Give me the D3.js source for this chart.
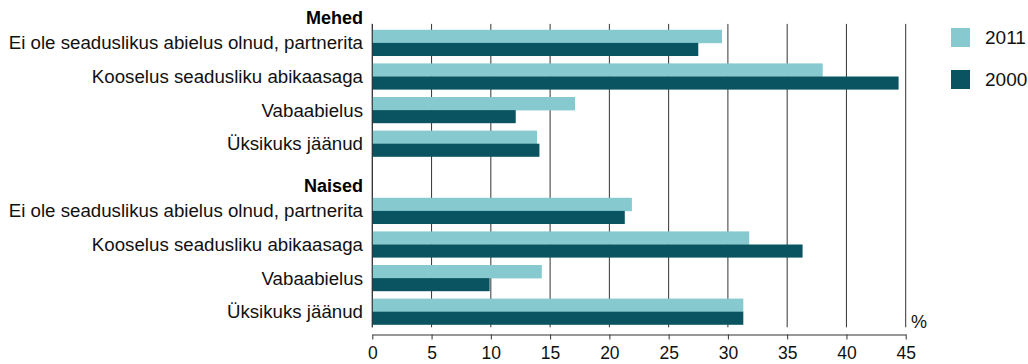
<!DOCTYPE html>
<html>
<head>
<meta charset="utf-8">
<script src="https://cdn.jsdelivr.net/npm/d3@7/dist/d3.min.js"></script>
<style>
html,body{margin:0;padding:0;background:#fff;}
svg{display:block;font-family:"Liberation Sans",Arial,sans-serif;}
</style>
</head>
<body>
<svg id="chart" width="1028" height="364"></svg>
<script>
const groups = ["Mehed", "Naised"];
const categories = [
  "Ei ole seaduslikus abielus olnud, partnerita",
  "Kooselus seadusliku abikaasaga",
  "Vabaabielus",
  "Üksikuks jäänud"
];
const series = ["2011", "2000"];
const values2011 = [29.5, 38.0, 17.1, 13.9, 21.9, 31.8, 14.3, 31.3];
const values2000 = [27.5, 44.4, 12.1, 14.1, 21.3, 36.3, 9.9, 31.3];
const xTicks = [0, 5, 10, 15, 20, 25, 30, 35, 40, 45];
const unitLabel = "%";
const colors = ["#86c9cf", "#0a5461"];

const svg = d3.select("#chart");

const rows = [];
groups.forEach((g, gi) => {
  rows.push({key: "h" + gi, type: "header", label: g});
  categories.forEach((c, ci) => {
    const idx = gi * categories.length + ci;
    rows.push({key: "r" + idx, type: "cat", label: c, v2011: values2011[idx], v2000: values2000[idx]});
  });
});

const x = d3.scaleLinear().domain([0, 45]).range([372.3, 905.7]);
const y = d3.scaleBand().domain(rows.map(r => r.key)).range([-7.5, 328.5])
  .paddingInner(0.22).paddingOuter(0.11);
const bw = y.bandwidth();

const gridTop = y(rows[0].key) + bw + 1.5;
const gridBottom = y(rows[rows.length - 1].key) + bw + 2.5;

svg.append("g").selectAll("line").data(xTicks).join("line")
  .attr("x1", d => x(d)).attr("x2", d => x(d))
  .attr("y1", gridTop).attr("y2", gridBottom)
  .attr("stroke", "#333").attr("stroke-width", 1);

const catRows = rows.filter(r => r.type === "cat");
const barG = svg.append("g");
series.forEach((s, si) => {
  barG.append("g").selectAll("rect").data(catRows).join("rect")
    .attr("x", x(0))
    .attr("y", d => y(d.key) + si * bw / 2)
    .attr("width", d => x(si === 0 ? d.v2011 : d.v2000) - x(0))
    .attr("height", bw / 2 + (si === 0 ? 0.3 : 0))
    .attr("fill", colors[si]);
});

svg.append("line").attr("x1", x(0)).attr("x2", x(0))
  .attr("y1", gridTop).attr("y2", gridBottom)
  .attr("stroke", "#333").attr("stroke-width", 1);

svg.append("g").selectAll("text").data(catRows).join("text")
  .attr("x", 363).attr("y", d => y(d.key) + bw / 2)
  .attr("dy", "0.35em").attr("text-anchor", "end")
  .attr("font-size", "18.7px").attr("fill", "#111")
  .text(d => d.label);

svg.append("g").selectAll("text").data(rows.filter(r => r.type === "header")).join("text")
  .attr("x", 363).attr("y", d => y(d.key) + bw + 1.5)
  .attr("text-anchor", "end").attr("font-weight", "bold")
  .attr("font-size", "18px").attr("fill", "#000")
  .text(d => d.label);

const axisY = 334.5;
const axis = d3.axisBottom(x).tickValues(xTicks).tickSize(5).tickSizeOuter(0).tickPadding(7);
const ax = svg.append("g").attr("transform", `translate(0,${axisY})`).call(axis);
ax.select(".domain").attr("stroke", "#333");
ax.selectAll(".tick line").attr("stroke", "#333");
ax.selectAll(".tick text").attr("font-size", "17.5px").attr("fill", "#111")
  .attr("font-family", "Liberation Sans, Arial, sans-serif");

svg.append("text").attr("x", 911).attr("y", 328)
  .attr("font-size", "18px").attr("fill", "#111").text(unitLabel);

const leg = svg.append("g").selectAll("g").data(series).join("g")
  .attr("transform", (d, i) => `translate(951,${28 + i * 42})`);
leg.append("rect").attr("width", 19).attr("height", 19).attr("fill", (d, i) => colors[i]);
leg.append("text").attr("x", 34).attr("y", 9.5).attr("dy", "0.35em")
  .attr("font-size", "19px").attr("fill", "#111").text(d => d);
</script>
</body>
</html>
